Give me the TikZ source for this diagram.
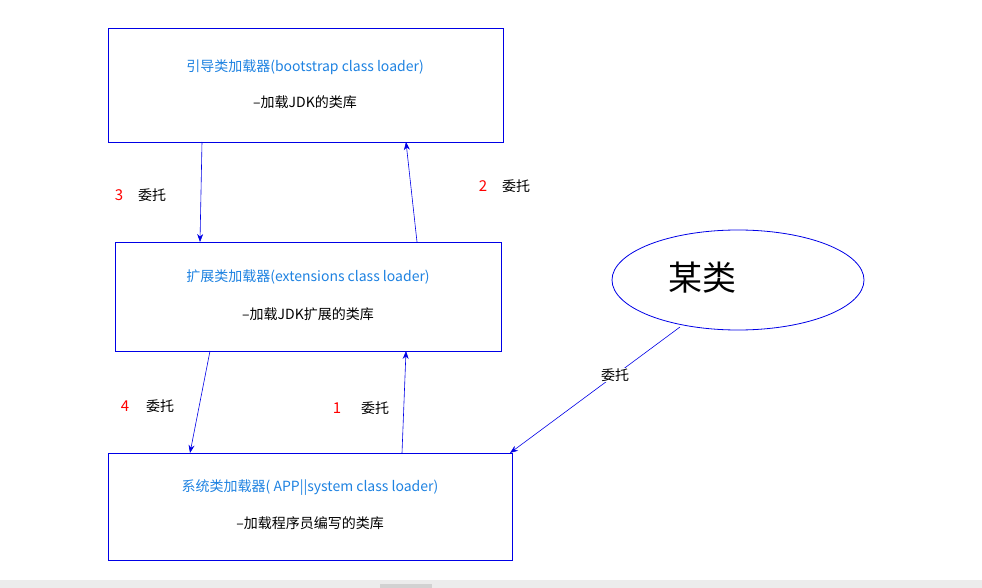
\documentclass[tikz,border=0pt]{standalone}
\usepackage{fontspec}
\setmainfont{Noto Sans CJK SC}
\usetikzlibrary{arrows.meta,shapes.geometric}
\definecolor{tblue}{RGB}{30,130,225}
\definecolor{lblue}{RGB}{0,0,230}
\begin{document}
\begin{tikzpicture}[x=1pt,y=-1pt,
  box/.style={draw=lblue,line width=0.8pt},
  con/.style={draw=lblue,line width=0.6pt,-{Stealth[length=8pt,width=6pt]}},
  ttl/.style={text=tblue,font=\fontsize{14}{16}\selectfont},
  sub/.style={font=\fontsize{14}{16}\selectfont},
  lab/.style={font=\fontsize{14}{16}\selectfont},
  num/.style={text=red,font=\fontsize{15}{16}\selectfont}]
\useasboundingbox (0,0) rectangle (982,588);
\fill[gray!15] (0,580) rectangle (982,588);
\fill[gray!35] (380,584) rectangle (432,588);
\node[box,minimum width=395pt,minimum height=114pt,anchor=north west] (b1) at (108,28) {};
\node[box,minimum width=386pt,minimum height=109pt,anchor=north west] (b2) at (115,242) {};
\node[box,minimum width=404pt,minimum height=107pt,anchor=north west] (b3) at (108,453) {};
\node[ttl] (t1) at (305,67) {引导类加载器(bootstrap class loader)};
\node[sub] (s1) at (305,102) {--加载JDK的类库};
\node[ttl] (t2) at (308,277) {扩展类加载器(extensions class loader)};
\node[sub] (s2) at (308,314) {--加载JDK扩展的类库};
\node[ttl] (t3) at (310,488) {系统类加载器( APP||system class loader)};
\node[sub] (s3) at (310,523) {--加载程序员编写的类库};
\node[draw=lblue,line width=0.8pt,ellipse,minimum width=252pt,minimum height=100pt] (e) at (738,280) {};
\node[font=\fontsize{34}{36}\selectfont] (et) at (702,278) {某类};
\coordinate (a1s) at (202,142); \coordinate (a1e) at (200,242);
\coordinate (a2s) at (417,242); \coordinate (a2e) at (406,142);
\coordinate (a3s) at (210,351); \coordinate (a3e) at (190,453);
\coordinate (a4s) at (402,453); \coordinate (a4e) at (406,351);
\coordinate (a5s) at (680,327); \coordinate (a5e) at (510,453);
\draw[con] (a1s) -- (a1e);
\draw[con] (a2s) -- (a2e);
\draw[con] (a3s) -- (a3e);
\draw[con] (a4s) -- (a4e);
\draw[con] (a5s) -- (a5e);
\node[num] (n3) at (119,195) {3}; \node[lab] (l3) at (152,195) {委托};
\node[num] (n2) at (483,186) {2}; \node[lab] (l2) at (516,186) {委托};
\node[num] (n4) at (125,406) {4}; \node[lab] (l4) at (160,406) {委托};
\node[num] (n1) at (337,408) {1}; \node[lab] (l1) at (375,408) {委托};
\node[lab,fill=white,inner sep=1pt] (l5) at (615,375) {委托};
\end{tikzpicture}
\end{document}
